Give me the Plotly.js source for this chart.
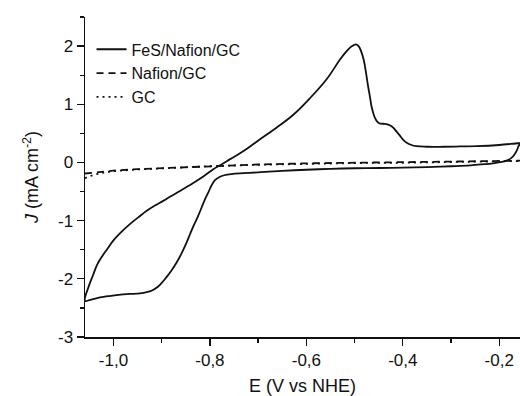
<!DOCTYPE html>
<html>
<head>
<meta charset="utf-8">
<script src="https://cdn.plot.ly/plotly-3.0.1.min.js"></script>
<style>html,body{margin:0;padding:0;background:#fff;}#chart{width:520px;height:396px;}</style>
</head>
<body>
<div id="chart"></div>
<script>
// FeS/Nafion/GC cyclic voltammogram (cathodic sweep then anodic sweep)
const fesE = [-0.157,-0.160,-0.164,-0.170,-0.176,-0.185,-0.195,-0.210,-0.230,-0.260,-0.300,-0.350,-0.400,-0.450,-0.500,-0.550,-0.600,-0.650,-0.700,-0.730,-0.755,-0.770,-0.780,-0.790,-0.797,-0.803,-0.810,-0.817,-0.825,-0.834,-0.841,-0.848,-0.858,-0.869,-0.880,-0.890,-0.900,-0.910,-0.920,-0.931,-0.945,-0.966,-0.985,-1.001,-1.020,-1.034,-1.048,-1.059,
  -1.050,-1.042,-1.034,-1.024,-1.013,-1.000,-0.983,-0.966,-0.948,-0.931,-0.914,-0.897,-0.880,-0.862,-0.845,-0.828,-0.810,-0.793,-0.775,-0.758,-0.741,-0.724,-0.696,-0.660,-0.627,-0.593,-0.558,-0.531,-0.520,-0.510,-0.503,-0.497,-0.491,-0.486,-0.481,-0.477,-0.472,-0.468,-0.465,-0.461,-0.458,-0.453,-0.448,-0.441,-0.434,-0.427,-0.420,-0.413,-0.406,-0.399,-0.392,-0.382,-0.372,-0.350,-0.316,-0.280,-0.247,-0.200,-0.161,-0.157];
const fesJ = [0.33,0.28,0.20,0.12,0.07,0.03,0.01,-0.01,-0.03,-0.05,-0.065,-0.08,-0.09,-0.095,-0.10,-0.11,-0.125,-0.145,-0.17,-0.185,-0.20,-0.22,-0.25,-0.31,-0.40,-0.51,-0.63,-0.77,-0.93,-1.09,-1.23,-1.37,-1.55,-1.72,-1.86,-1.97,-2.07,-2.15,-2.20,-2.23,-2.25,-2.26,-2.27,-2.29,-2.31,-2.33,-2.36,-2.38,
  -2.10,-1.93,-1.76,-1.62,-1.49,-1.34,-1.19,-1.06,-0.94,-0.83,-0.74,-0.66,-0.575,-0.49,-0.405,-0.32,-0.22,-0.115,-0.03,0.057,0.14,0.23,0.40,0.61,0.82,1.10,1.43,1.76,1.88,1.97,2.01,2.03,1.99,1.90,1.76,1.58,1.31,1.12,0.97,0.84,0.77,0.70,0.67,0.665,0.66,0.64,0.60,0.53,0.46,0.39,0.34,0.30,0.28,0.27,0.27,0.275,0.28,0.30,0.33,0.33];

const blankE = [-1.059,-1.04,-1.02,-1.00,-0.95,-0.90,-0.85,-0.80,-0.70,-0.60,-0.50,-0.40,-0.30,-0.20,-0.157];
const nafionJ = [-0.19,-0.17,-0.155,-0.14,-0.115,-0.10,-0.08,-0.06,-0.035,-0.015,-0.005,0.0,0.01,0.02,0.03];
const gcJ = [-0.27,-0.21,-0.175,-0.15,-0.12,-0.10,-0.085,-0.065,-0.04,-0.02,-0.01,-0.005,0.005,0.015,0.025];

const seriesNames = ['FeS/Nafion/GC','Nafion/GC','GC'];
const xTickVals = [-1.0,-0.8,-0.6,-0.4,-0.2];
const xTickText = ['-1,0','-0,8','-0,6','-0,4','-0,2'];
const yTickVals = [-3,-2,-1,0,1,2];
const yTickText = ['-3','-2','-1','0','1','2'];

const FONT = 'Liberation Sans, Arial, sans-serif';
const INK = '#111';

const traces = [
  {x: fesE, y: fesJ, name: seriesNames[0], mode: 'lines', line: {color: INK, width: 1.8, shape: 'spline', smoothing: 1.1}},
  {x: blankE, y: nafionJ, name: seriesNames[1], mode: 'lines', line: {color: INK, width: 1.8, dash: '7px,5px'}},
  {x: blankE, y: gcJ, name: seriesNames[2], mode: 'lines', line: {color: INK, width: 1.8, dash: '2px,4px'}}
];

const layout = {
  width: 520, height: 396,
  margin: {l: 85, r: 0, t: 17, b: 59},
  paper_bgcolor: '#fff', plot_bgcolor: '#fff',
  font: {family: FONT, size: 17, color: INK},
  showlegend: true,
  legend: {x: 0.015, y: 0.952, xanchor: 'left', yanchor: 'top', bgcolor: 'rgba(0,0,0,0)', font: {family: FONT, size: 16, color: INK}, tracegroupgap: 0},
  xaxis: {
    range: [-1.059, -0.157], tickvals: xTickVals, ticktext: xTickText,
    showgrid: false, zeroline: false, showline: true, linecolor: INK, linewidth: 1.5,
    ticks: 'outside', ticklen: 7, tickwidth: 1.3, tickcolor: INK,
    minor: {dtick: 0.1, tick0: -1.0, ticks: 'outside', ticklen: 4, tickwidth: 1.3, tickcolor: INK, showgrid: false},
    tickfont: {family: FONT, size: 17, color: INK},
    title: {text: 'E (V vs NHE)', font: {family: FONT, size: 18, color: INK}, standoff: 12},
    automargin: false
  },
  yaxis: {
    range: [-3, 2.5], tickvals: yTickVals, ticktext: yTickText,
    showgrid: false, zeroline: false, showline: true, linecolor: INK, linewidth: 1.5,
    ticks: 'outside', ticklen: 7, tickwidth: 1.3, tickcolor: INK,
    minor: {dtick: 0.5, tick0: 0, ticks: 'outside', ticklen: 4, tickwidth: 1.3, tickcolor: INK, showgrid: false},
    tickfont: {family: FONT, size: 17, color: INK},
    title: {text: '<i>J</i> (mA cm<sup>-2</sup>)', font: {family: FONT, size: 18, color: INK}, standoff: 14},
    automargin: false
  }
};

Plotly.newPlot('chart', traces, layout, {staticPlot: true, displayModeBar: false});
</script>
</body>
</html>
